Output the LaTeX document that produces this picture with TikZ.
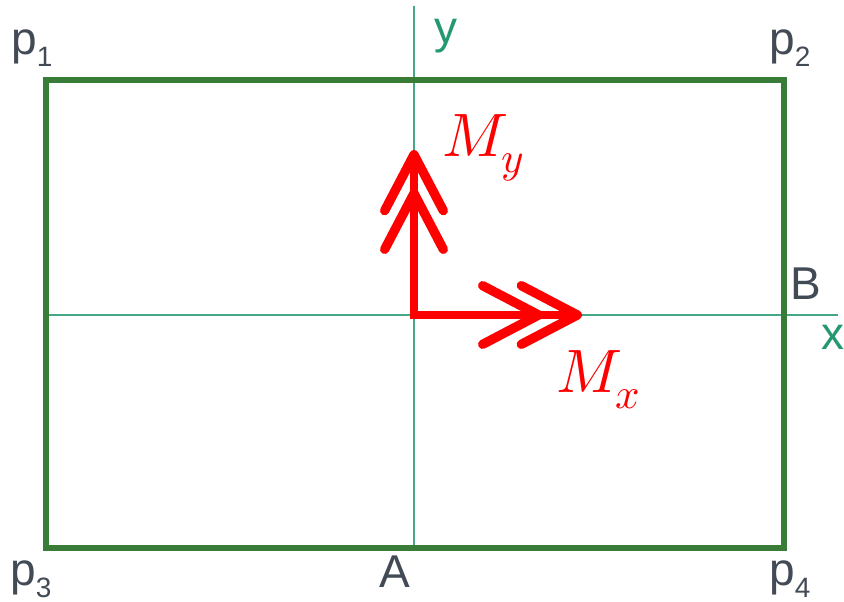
\documentclass[tikz,border=0pt]{standalone}
\usepackage{fontspec}
\usepackage{unicode-math}
\setmainfont{Liberation Sans}
\setmathfont{Latin Modern Math}
\usepackage{tikz}
\usetikzlibrary{positioning,arrows.meta,calc}
\definecolor{framegreen}{RGB}{56,124,56}
\definecolor{axisteal}{RGB}{36,152,114}
\definecolor{slate}{RGB}{66,74,86}
\definecolor{momentred}{RGB}{255,0,0}
\tikzset{
  chev/.tip={Straight Barb[length=42pt, width=44pt, line width=7pt, line cap=round, line join=round]},
  frame/.style={draw=framegreen, line width=3.8pt, line join=miter},
  axis/.style={draw=axisteal!85, line width=0.9pt},
  ptlbl/.style={text=slate, font=\fontsize{34.5}{36}\selectfont, inner sep=0pt, anchor=base west},
  axlbl/.style={text=axisteal, font=\fontsize{34.5}{36}\selectfont, inner sep=0pt, anchor=base west},
  mlbl/.style={text=momentred, font=\fontsize{46}{48}\selectfont, inner sep=0pt, anchor=base west},
  moment/.style={draw=momentred, line width=6pt, line join=miter,
    {chev[sep=0pt]chev[sep=-20pt]}-{chev[sep=-20pt]chev[sep=0pt]}}
}
\newcommand{\corner}[1]{p\raisebox{-9pt}{\fontsize{21}{22}\selectfont #1}}

\begin{document}
\begin{tikzpicture}[x=0.75pt, y=-0.75pt]
  \useasboundingbox (0,0) rectangle (844,602);
  % corners of the section
  \coordinate (c1) at (46,80);
  \coordinate (c2) at (784,80);
  \coordinate (c3) at (46,548);
  \coordinate (c4) at (784,548);
  \coordinate (O) at (414,315);
  % axes
  \coordinate (ytop) at (414,6);
  \coordinate (ybot) at (414,548);
  \coordinate (xleft) at (48,315);
  \coordinate (xright) at (838,315);
  \draw[axis] (ytop) -- (ybot);
  \draw[axis] (xleft) -- (xright);
  \draw[frame] (c1) -- (c2) -- (c4) -- (c3) -- cycle;
  % moment vectors
  \coordinate (mytip) at (414,150);
  \coordinate (mxtip) at (582,315);
  \draw[moment] (mytip) -- (O) -- (mxtip);
  % labels
  \node[ptlbl] (l1) at (11,55) {\corner{1}};
  \node[ptlbl] (l2) at (769,55) {\corner{2}};
  \node[ptlbl] (l3) at (10,586) {\corner{3}};
  \node[ptlbl] (l4) at (769,586) {\corner{4}};
  \node[ptlbl, anchor=base] (la) at (395,588) {A};
  \node[ptlbl] (lb) at (790,300) {B};
  \node[axlbl] (lx) at (821,350) {x};
  \node[axlbl] (ly) at (434,44) {y};
  \node[mlbl] (lmy) at (442,157) {$M_y$};
  \node[mlbl] (lmx) at (556,393) {$M_x$};
\end{tikzpicture}
\end{document}
